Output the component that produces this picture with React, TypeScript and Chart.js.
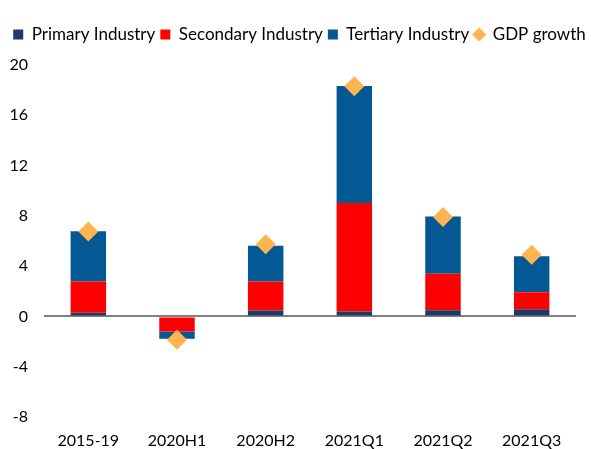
import React, { useEffect, useRef } from "react";
import { Chart, registerables } from "chart.js";

Chart.register(...registerables);

const categories = ["2015-19", "2020H1", "2020H2", "2021Q1", "2021Q2", "2021Q3"];
const primary = [0.3, 0, 0.48, 0.4, 0.5, 0.58];
const secondary = [2.48, -1.2, 2.3, 8.62, 2.89, 1.35];
const tertiary = [4.0, -0.57, 2.85, 9.3, 4.55, 2.86];
const gdpGrowth = [6.75, -1.85, 5.75, 18.3, 7.9, 4.9];
const yTicks = [-8, -4, 0, 4, 8, 12, 16, 20];

const FONT = "Lato, 'Liberation Sans', sans-serif";

const legendSpacer = {
  id: "legendSpacer",
  afterInit(chart: any) {
    const lg = chart.legend;
    if (lg && !lg._spaced) {
      const orig = lg.fit;
      lg.fit = function () {
        orig.call(this);
        this.height += 12;
      };
      lg._spaced = true;
    }
  },
};

export default function App() {
  const ref = useRef<HTMLCanvasElement | null>(null);
  useEffect(() => {
    document.body.style.margin = "0";
    const ctx = ref.current!;
    const chart = new Chart(ctx, {
      type: "bar",
      data: {
        labels: categories,
        datasets: [
          { type: "bar", label: "Primary Industry", data: primary, backgroundColor: "#203864", stack: "s", order: 1, pointStyle: "rect" } as any,
          { type: "bar", label: "Secondary Industry", data: secondary, backgroundColor: "#FF0000", stack: "s", order: 1, pointStyle: "rect" } as any,
          { type: "bar", label: "Tertiary Industry", data: tertiary, backgroundColor: "#045893", stack: "s", order: 1, pointStyle: "rect" } as any,
          {
            type: "line",
            label: "GDP growth",
            data: gdpGrowth,
            showLine: false,
            pointStyle: "rectRot",
            pointRadius: 10,
            pointHoverRadius: 10,
            backgroundColor: "#FFB54F",
            borderColor: "#FFB54F",
            borderWidth: 0,
            order: 0,
          } as any,
        ],
      },
      options: {
        animation: false,
        responsive: false,
        maintainAspectRatio: false,
        layout: { padding: { top: 21, right: 0, left: 8, bottom: 0 } },
        datasets: { bar: { barPercentage: 0.4, categoryPercentage: 1 } },
        plugins: {
          legend: {
            display: true,
            position: "top",
            labels: {
              usePointStyle: true,
              boxWidth: 10,
              boxHeight: 10,
              padding: 5,
              color: "#000",
              font: { family: FONT, size: 17 },
              sort: (a: any, b: any) => a.datasetIndex - b.datasetIndex,
            },
          },
          title: { display: false },
          tooltip: { enabled: false },
        },
        scales: {
          x: {
            stacked: true,
            grid: { display: false, drawTicks: false },
            border: { display: false },
            ticks: { color: "#000", font: { family: FONT, size: 16 }, padding: 14, maxRotation: 0 },
            afterFit: (s: any) => { s.height = 32; },
          },
          y: {
            stacked: true,
            min: -8,
            max: 20,
            afterBuildTicks: (s: any) => { s.ticks = yTicks.map((v) => ({ value: v })); },
            grid: {
              color: (c: any) => (c.tick && c.tick.value === 0 ? "#808080" : "rgba(0,0,0,0)"),
              lineWidth: 2,
              drawTicks: false,
            },
            border: { display: false },
            ticks: { color: "#000", font: { family: FONT, size: 16 }, padding: 16 },
            afterFit: (s: any) => { s.width = 36; },
          },
          yRight: {
            position: "right",
            display: true,
            min: -8,
            max: 20,
            grid: { display: false, drawTicks: false },
            border: { display: false },
            ticks: { display: false },
            afterFit: (s: any) => { s.width = 15; },
          },
        },
      },
      plugins: [legendSpacer],
    });
    return () => chart.destroy();
  }, []);
  return (
    <div style={{ width: 591, height: 449 }}>
      <canvas ref={ref} width={591} height={449} style={{ display: "block", width: 591, height: 449 }} />
    </div>
  );
}
